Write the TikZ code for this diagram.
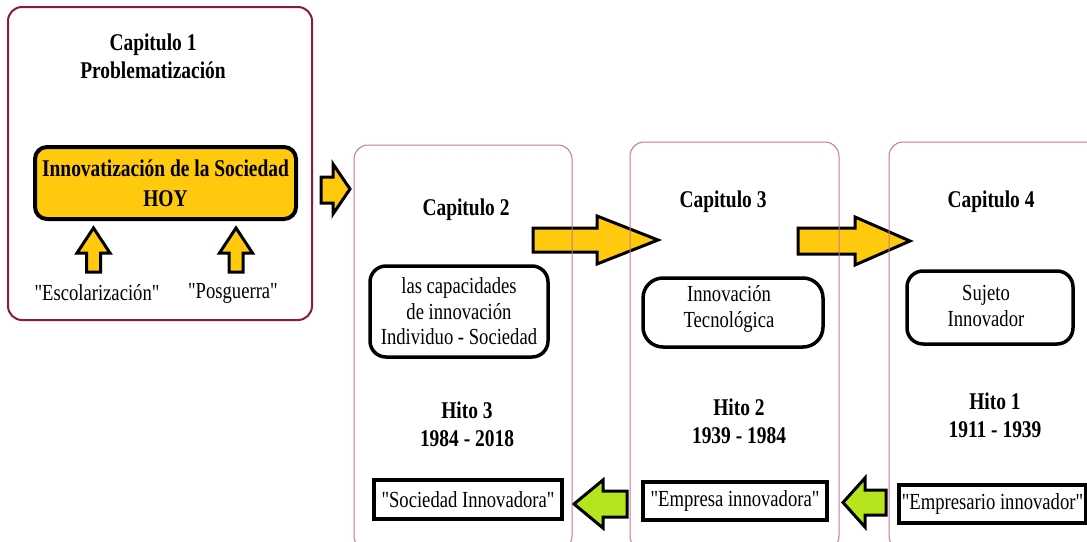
\documentclass[tikz,border=0pt]{standalone}
\usepackage{fontspec}
\setmainfont{Liberation Serif}[FakeStretch=0.81, Ligatures=TeXOff]
\definecolor{maroon}{HTML}{8E1B2E}
\definecolor{rosy}{HTML}{C9788A}
\definecolor{gold}{HTML}{FFC90E}
\definecolor{lime}{HTML}{B5E61D}
\tikzset{
  chapone/.style={draw=maroon, line width=2pt, rounded corners=14pt},
  chapframe/.style={draw=rosy, line width=1pt, rounded corners=14pt},
  title/.style={font=\fontsize{24}{28}\selectfont\bfseries, align=center, inner sep=0pt},
  plain/.style={font=\fontsize{23}{26}\selectfont, align=center, inner sep=0pt},
  goldbox/.style={draw=black, fill=gold, line width=4pt, rounded corners=12pt, inner sep=0pt},
  idea/.style={draw=black, fill=white, line width=3.5pt, rounded corners=16pt, inner sep=0pt},
  quote/.style={draw=black, fill=white, line width=4pt, inner sep=0pt},
  yarrow/.style={draw=black, fill=gold, line width=3pt, line join=miter},
  garrow/.style={draw=black, fill=lime, line width=3pt, line join=miter},
}
\begin{document}
\begin{tikzpicture}[x=1pt, y=-1pt]
\clip (0,0) rectangle (1087,541);
\fill[white] (0,0) rectangle (1087,541);

% Chapter 1
\node[chapone, minimum width=304pt, minimum height=313pt] (cap1) at (160,163.5) {};
\node[title] (cap1t) at (153,56) {Capitulo 1\\Problematización};
\node[goldbox, minimum width=261pt, minimum height=72pt, font=\fontsize{24}{30}\selectfont\bfseries, align=center] (hoy) at (165.5,183) {Innovatización de la Sociedad\\HOY};
\node[plain] (esc) at (97,293) {"Escolarización"};
\node[plain] (pos) at (233,293) {"Posguerra"};

% upward arrows into the gold box
\foreach \cx in {93.5,236}{
  \draw[yarrow] (\cx-7,272) -- (\cx-7,253) -- (\cx-16.5,253) -- (\cx,228)
    -- (\cx+16.5,253) -- (\cx+7,253) -- (\cx+7,272) -- cycle;
}

% arrow from chapter 1 to chapter 2
\draw[yarrow] (321,177) -- (333,177) -- (333,164) -- (350,189) -- (333,214) -- (333,203) -- (321,203) -- cycle;

% arrows between chapters
\draw[yarrow] (533,228) -- (597,228) -- (597,216) -- (658,240) -- (597,264) -- (597,252) -- (533,252) -- cycle;
\draw[yarrow] (798,228) -- (855,228) -- (855,217) -- (910,241) -- (855,265) -- (855,254) -- (798,254) -- cycle;

% arrows back along the milestones
\draw[garrow] (627,491) -- (603,491) -- (603,480) -- (574,504) -- (603,528) -- (603,517) -- (627,517) -- cycle;
\draw[garrow] (886,490) -- (865,490) -- (865,478) -- (843,502.5) -- (865,527) -- (865,515) -- (886,515) -- cycle;

% Chapter frames
\node[chapframe, minimum width=218pt, minimum height=405pt] (cap2) at (463,347.5) {};
\node[chapframe, minimum width=209pt, minimum height=408pt] (cap3) at (734.5,346) {};
\node[chapframe, minimum width=211pt, minimum height=408pt] (cap4) at (994.5,346) {};

% Chapter 2
\node[title] (cap2t) at (466,210) {Capitulo 2};
\node[idea, minimum width=178pt, minimum height=91pt] (cap2b) at (459,311.5) {};
\node[plain, font=\fontsize{23}{25.5}\selectfont] at (cap2b) {las capacidades\\de innovación\\Individuo - Sociedad};
\node[title] (hito3) at (467,424) {Hito 3\\1984 - 2018};
\node[quote, minimum width=188pt, minimum height=39pt] (soc) at (468,499.5) {};
\node[plain] at (soc) {"Sociedad Innovadora"};

% Chapter 3
\node[title] (cap3t) at (723,202) {Capitulo 3};
\node[idea, rounded corners=20pt, minimum width=180pt, minimum height=69pt] (cap3b) at (733,312.5) {};
\node[plain] at (729,309) {Innovación\\Tecnológica};
\node[title] (hito2) at (739,421) {Hito 2\\1939 - 1984};
\node[quote, minimum width=184pt, minimum height=38pt] (emp) at (735,501) {};
\node[plain] at (emp) {"Empresa innovadora"};

% Chapter 4
\node[title] (cap4t) at (991,202) {Capitulo 4};
\node[idea, minimum width=166pt, minimum height=73pt] (cap4b) at (990,307.5) {};
\node[plain] at (986,306) {Sujeto\\Innovador};
\node[title] (hito1) at (995,415) {Hito 1\\1911 - 1939};
\node[quote, minimum width=187pt, minimum height=38pt] (empr) at (992.5,504) {};
\node[plain] at (empr) {"Empresario innovador"};
\end{tikzpicture}
\end{document}
